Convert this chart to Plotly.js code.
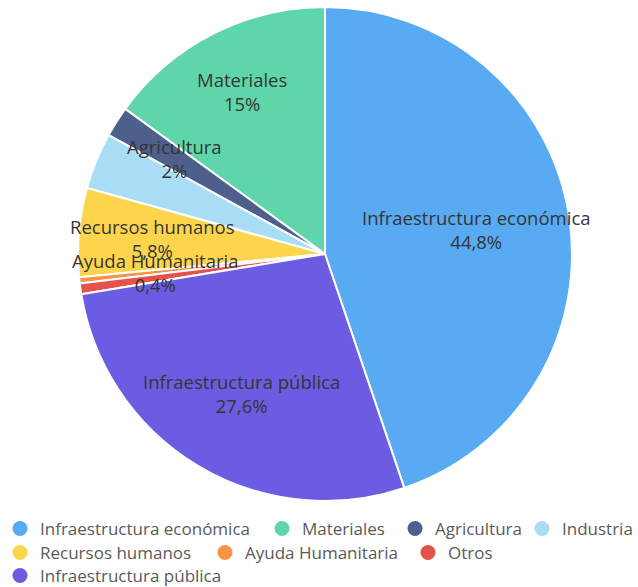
<!DOCTYPE html>
<html>
<head>
<meta charset="utf-8">
<script src="https://cdn.plot.ly/plotly-3.0.1.min.js"></script>
<style>html,body{margin:0;padding:0;background:#fff;}#chart{width:638px;height:587px;}</style>
</head>
<body>
<div id="chart"></div>
<script>
// ---- data ----
const categories = ["Infraestructura económica", "Materiales", "Agricultura", "Industria", "Recursos humanos", "Ayuda Humanitaria", "Otros", "Infraestructura pública"];
const shares = [44.8, 15, 2, 3.7, 5.8, 0.4, 0.7, 27.6];
const labelShown = [true, true, true, false, true, true, false, true];
const colors = ["#58aaf2", "#5fd6a9", "#4e5f8c", "#a9ddf6", "#fdd54c", "#f59347", "#e5524a", "#6b5ce1"];

// ---- layout geometry (not data) ----
const W = 638, H = 587;
const cx = 325, cy = 254, R = 247;
const labelRadius = [0.62, 0.74, 0.72, 0.70, 0.70, 0.69, 0.70, 0.66];
// legend entry placement: marker centre x / row centre y (pixels), anchor
const legendSlots = [
  {mx: 20, my: 527}, {mx: 282, my: 527}, {mx: 415, my: 527}, {mx: 555, my: 527, right: true},
  {mx: 20, my: 551}, {mx: 225, my: 551}, {mx: 428, my: 551},
  {mx: 20, my: 574}
];

const pie = {
  type: 'pie',
  labels: categories,
  values: shares,
  sort: false,
  direction: 'counterclockwise',
  rotation: 0,
  marker: {colors: colors, line: {color: '#ffffff', width: 2}},
  textinfo: 'none',
  hoverinfo: 'skip',
  showlegend: false,
  domain: {x: [(cx - R) / W, (cx + R) / W], y: [1 - (cy + R) / H, 1 - (cy - R) / H]}
};

const legendFont = {family: 'Open Sans, sans-serif', size: 17, color: '#5a5a5a'};
const layoutLegends = {};
const legendTraces = categories.map((c, i) => {
  const key = i === 0 ? 'legend' : 'legend' + (i + 1);
  const s = legendSlots[i];
  layoutLegends[key] = {
    orientation: 'h',
    x: s.right ? 1 : (s.mx - 20) / W,
    xanchor: s.right ? 'right' : 'left',
    y: 1 - (s.my - 16) / H, yanchor: 'top',
    font: legendFont, bgcolor: 'rgba(0,0,0,0)'
  };
  return {
    type: 'scatter', mode: 'markers', x: [null], y: [null], name: c,
    legend: key,
    marker: {color: colors[i], size: 15, symbol: 'circle'},
    hoverinfo: 'skip', showlegend: true
  };
});

// label annotations at the mid-angle of each slice (Plotly default slice ordering)
const total = shares.reduce((a, b) => a + b, 0);
const annotations = [];
let ccwCum = 0;
shares.forEach((v, i) => {
  const ang = v / total * 360;
  let mid; // clockwise from 12 o'clock, degrees
  if (i === 0) {
    mid = ang / 2;
  } else {
    mid = -(ccwCum + ang / 2);
    ccwCum += ang;
  }
  if (!labelShown[i]) return;
  const rad = mid * Math.PI / 180;
  const rr = labelRadius[i] * R;
  const px = cx + rr * Math.sin(rad);
  const py = cy - rr * Math.cos(rad);
  annotations.push({
    xref: 'paper', yref: 'paper', x: px / W, y: 1 - py / H,
    xanchor: 'center', yanchor: 'middle', showarrow: false,
    text: categories[i] + '<br>' + String(v).replace('.', ',') + '%',
    font: {family: 'Open Sans, sans-serif', size: 18.5, color: '#353535'}
  });
});

const layout = Object.assign({
  width: W, height: H,
  margin: {l: 0, r: 0, t: 0, b: 0, autoexpand: false},
  paper_bgcolor: '#ffffff', plot_bgcolor: 'rgba(0,0,0,0)',
  xaxis: {visible: false}, yaxis: {visible: false},
  showlegend: true,
  annotations: annotations
}, layoutLegends);

Plotly.newPlot('chart', [pie].concat(legendTraces), layout, {displayModeBar: false, staticPlot: true});
</script>
</body>
</html>
